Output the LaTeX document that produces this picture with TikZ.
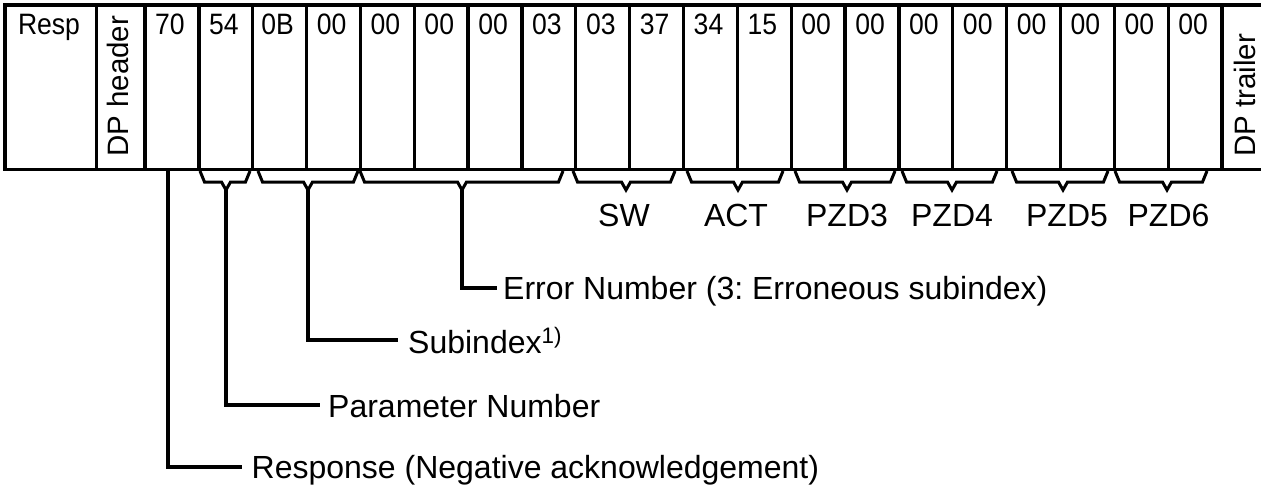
\documentclass[tikz,border=0pt]{standalone}
\usepackage{fontspec}
\setmainfont{Liberation Sans}
\newfontfamily\cellfont[FakeStretch=0.9]{Liberation Sans}
\frenchspacing
\begin{document}
\begin{tikzpicture}[x=1pt,y=-1pt,
  frame/.style={line width=3.3pt},
  bracestyle/.style={line width=3pt, line join=miter},
  leader/.style={line width=4.5pt, line join=miter},
  celltxt/.style={font=\cellfont\fontsize{29.5}{30}\selectfont, anchor=base, inner sep=0pt},
  vtxt/.style={font=\fontsize{29.5}{30}\selectfont, rotate=90, anchor=base west, inner sep=0pt},
  lbl/.style={font=\fontsize{32}{32}\selectfont, anchor=base west, inner sep=0pt},
  grp/.style={font=\fontsize{32}{32}\selectfont, anchor=base, inner sep=0pt}]
\useasboundingbox (0,0) rectangle (1261,493);

% frame
\draw[frame] (1264,5) -- (5,5) -- (5,169.5) -- (1264,169.5);
\draw[frame] (96.5,5) -- (96.5,169.5);
\foreach \k in {0,...,20} {\draw[frame] ({145+53.85*\k},5) -- ({145+53.85*\k},169.5);}

% cell texts
\node[celltxt] (resp) at (49,34.5) {Resp};
\node[vtxt] (dph) at (128,157) {DP header};
\node[vtxt] (dpt) at (1255,157) {DP trailer};
\foreach \v [count=\i from 0] in {70,54,0B,00,00,00,00,03,03,37,34,15,00,00,00,00,00,00,00,00}
  \node[celltxt] (b\i) at ({145+53.85*\i+25},34.5) {\v};

% braces
\newcommand\bracedraw[4]{%
  \draw[bracestyle] (#1,171) -- (#1+4.5,182) -- (#3-4.5,182) -- (#3,190) -- (#3+4.5,182) -- (#2-4.5,182) -- (#2,171);
  \coordinate (#4) at (#3,189);}
\bracedraw{200}{250}{226}{tpn}
\bracedraw{258}{358}{308}{tsi}
\bracedraw{360}{563}{462}{ter}
\bracedraw{573}{675}{626}{tsw}
\bracedraw{687}{783}{738}{tact}
\bracedraw{795}{895}{847}{tp3}
\bracedraw{902}{997}{952}{tp4}
\bracedraw{1012}{1108}{1063}{tp5}
\bracedraw{1115}{1207}{1167}{tp6}

% group labels
\node[grp] (lsw) at (624,226) {SW};
\node[grp] (lact) at (736,226) {ACT};
\node[grp] (lp3) at (847,226) {PZD3};
\node[grp] (lp4) at (952,226) {PZD4};
\node[grp] (lp5) at (1067,226) {PZD5};
\node[grp] (lp6) at (1168.5,226) {PZD6};

% leaders
\coordinate (trs) at (168,170);
\coordinate (ers) at (242,467);
\coordinate (epn) at (320,405);
\coordinate (esi) at (398,340);
\coordinate (eer) at (497,288);
\draw[leader] (trs) |- (ers);
\draw[leader] (tpn) |- (epn);
\draw[leader] (tsi) |- (esi);
\draw[leader] (ter) |- (eer);

\node[lbl] (lrs) at (251.5,478) {Response (Negative acknowledgement)};
\node[lbl] (lpn) at (328,417) {Parameter Number};
\node[lbl] (lsi) at (408,353) {Subindex\textsuperscript{1)}};
\node[lbl] (ler) at (503,299) {Error Number (3: Erroneous subindex)};
\end{tikzpicture}
\end{document}
